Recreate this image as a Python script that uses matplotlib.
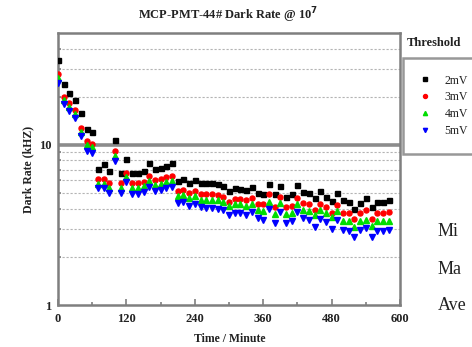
import matplotlib
matplotlib.use("Agg")
from matplotlib import pyplot as plt
from matplotlib.ticker import FixedLocator, NullFormatter, FixedFormatter
import numpy as np

plt.rcParams['font.family'] = ['Liberation Serif', 'DejaVu Serif']

# time axis (minutes)
time_min = [0, 10, 20, 30, 40, 50, 60, 70, 80, 90, 100, 110, 120, 130, 140, 150, 160, 170, 180, 190,
            200, 210, 220, 230, 240, 250, 260, 270, 280, 290, 300, 310, 320, 330, 340, 350, 360, 370, 380, 390,
            400, 410, 420, 430, 440, 450, 460, 470, 480, 490, 500, 510, 520, 530, 540, 550, 560, 570, 580]

# dark rate (kHz) per threshold
rate_2mv = [34.0, 23.9, 21.1, 19.1, 15.9, 12.5, 12.1, 7.08, 7.6, 6.88, 10.7, 6.68, 8.14, 6.65, 6.65, 6.9, 7.75, 7.05, 7.21, 7.39,
            7.68, 5.98, 6.1, 5.81, 6.04, 5.76, 5.76, 5.76, 5.68, 5.54, 5.16, 5.36, 5.28, 5.23, 5.49, 4.99, 4.92, 5.70, 4.92, 5.54,
            4.75, 4.92, 5.65, 5.10, 4.99, 4.64, 5.16, 4.76, 4.46, 4.99, 4.53, 4.42, 3.96, 4.32, 4.66, 4.08, 4.38, 4.38, 4.53]
rate_3mv = [27.7, 20.0, 18.2, 16.5, 12.7, 10.6, 10.2, 6.13, 6.13, 5.81, 9.1, 5.76, 6.65, 5.76, 5.76, 5.90, 6.4, 6.04, 6.13, 6.28,
            6.4, 5.16, 5.23, 4.99, 5.16, 4.95, 4.95, 4.94, 4.87, 4.76, 4.42, 4.58, 4.58, 4.53, 4.64, 4.28, 4.25, 4.93, 4.10, 4.71,
            4.10, 4.16, 4.64, 4.36, 4.26, 3.92, 4.28, 4.08, 3.78, 4.22, 3.78, 3.78, 3.45, 3.74, 3.92, 3.45, 3.78, 3.78, 3.81]
rate_4mv = [26.1, 19.1, 17.3, 15.6, 12.1, 10.0, 9.72, 5.70, 5.70, 5.39, 8.53, 5.39, 6.26, 5.36, 5.36, 5.50, 5.96, 5.62, 5.70, 5.87,
            5.96, 4.80, 4.87, 4.66, 4.80, 4.56, 4.56, 4.53, 4.50, 4.40, 4.16, 4.26, 4.26, 4.16, 4.26, 3.92, 3.87, 4.42, 3.69, 4.32,
            3.69, 3.74, 4.26, 3.92, 3.87, 3.65, 3.92, 3.78, 3.56, 3.88, 3.35, 3.35, 3.07, 3.35, 3.40, 3.12, 3.35, 3.35, 3.36]
rate_5mv = [24.3, 18.0, 16.2, 14.7, 11.3, 9.21, 8.87, 5.36, 5.36, 5.01, 7.94, 4.98, 5.85, 4.94, 4.94, 5.10, 5.49, 5.16, 5.23, 5.36,
            5.49, 4.36, 4.42, 4.16, 4.28, 4.08, 4.06, 4.02, 3.96, 3.92, 3.65, 3.78, 3.74, 3.65, 3.80, 3.48, 3.40, 3.96, 3.27, 3.83,
            3.27, 3.35, 3.80, 3.48, 3.40, 3.09, 3.45, 3.32, 2.97, 3.40, 2.94, 2.91, 2.65, 2.94, 3.03, 2.65, 2.91, 2.91, 2.94]

thresholds = ["2mV", "3mV", "4mV", "5mV"]
x_ticks = [0, 120, 240, 360, 480, 600]
side_labels = ["Mi", "Ma", "Ave"]  # only the visible part of the cropped side notes

W, H = 472, 347
fig = plt.figure(figsize=(W / 100, H / 100), dpi=100)
ax = fig.add_axes([58 / W, 42 / H, 342 / W, 272 / H])

frame_gray = "#7f7f7f"

# gridlines: dotted at minor decades, heavy line at 10
for v in [2, 3, 4, 5, 6, 7, 8, 9, 20, 30, 40]:
    ax.axhline(v, color="#b4b4b4", lw=0.8, ls=(0, (2, 1.6)), zorder=0)
ax.axhline(10, color="#8c8c8c", lw=2.6, zorder=0)

styles = [("s", "black", 3.6), ("o", "red", 3.6), ("^", "#00dd00", 3.8), ("v", "blue", 3.8)]
handles = []
for rates, (mk, col, ms), lab in zip([rate_2mv, rate_3mv, rate_4mv, rate_5mv], styles, thresholds):
    h, = ax.plot(time_min, rates, ls="none", marker=mk, color=col, ms=ms, mec=col, label=lab, zorder=3)
    handles.append(h)

ax.set_yscale("log")
ax.set_xlim(0, 600)
ax.set_ylim(1, 50)

ax.xaxis.set_major_locator(FixedLocator(x_ticks))
ax.xaxis.set_minor_locator(FixedLocator([60, 180, 300, 420, 540]))
ax.yaxis.set_major_locator(FixedLocator([1, 10]))
ax.yaxis.set_major_formatter(FixedFormatter(["1", "10"]))
ax.yaxis.set_minor_locator(FixedLocator([2, 3, 4, 5, 6, 7, 8, 9, 20, 30, 40]))
ax.yaxis.set_minor_formatter(NullFormatter())

ax.tick_params(axis="both", which="both", direction="in", colors=frame_gray, labelcolor="#222222",
               labelsize=9, width=1.2)
ax.tick_params(axis="x", which="major", length=4, pad=6)
ax.tick_params(axis="x", which="minor", length=2.5)
ax.tick_params(axis="y", which="major", length=0, pad=5)
ax.tick_params(axis="y", which="minor", length=2)
for lbl in ax.get_xticklabels() + ax.get_yticklabels():
    lbl.set_fontweight("bold")

for sp in ax.spines.values():
    sp.set_color(frame_gray)
    sp.set_linewidth(1.8)

fig.text(228 / W, 1 - 15 / H, r"MCP-PMT-44# Dark Rate @ 10$^{\mathbf{7}}$", ha="center", va="center",
         fontsize=9, fontweight="bold", color="#222222")
fig.text(230 / W, 1 - 339 / H, "Time / Minute", ha="center", va="center", fontsize=8.5,
         fontweight="bold", color="#222222")
ax.set_ylabel("Dark Rate (kHZ)", fontsize=8.5, fontweight="bold", color="#222222")
ax.yaxis.set_label_coords(-0.07, 0.5)

# legend
fig.text(407 / W, 1 - 43 / H, "Threshold", ha="left", va="center", fontsize=9, fontweight="bold",
         color="#222222")
leg = fig.legend(handles=handles, labels=thresholds, loc="upper left",
                 bbox_to_anchor=(403 / W, 1 - 58 / H, 110 / W, 0.0), mode="expand",
                 fancybox=False, fontsize=8.5, handlelength=1.0, handletextpad=1.1,
                 borderpad=1.4, borderaxespad=0, labelspacing=0.42, markerscale=0.8)
leg.get_frame().set_edgecolor(frame_gray)
leg.get_frame().set_linewidth(1.8)
leg._legend_box.align = "left"
for t in leg.get_texts():
    t.set_color("#222222")

# side statistics labels (cropped in the source)
for ytxt, s in zip([232, 269, 305], side_labels):
    fig.text(438 / W, 1 - ytxt / H, s, ha="left", va="center", fontsize=13, color="#222222")

fig.savefig("out.png", dpi=100)
